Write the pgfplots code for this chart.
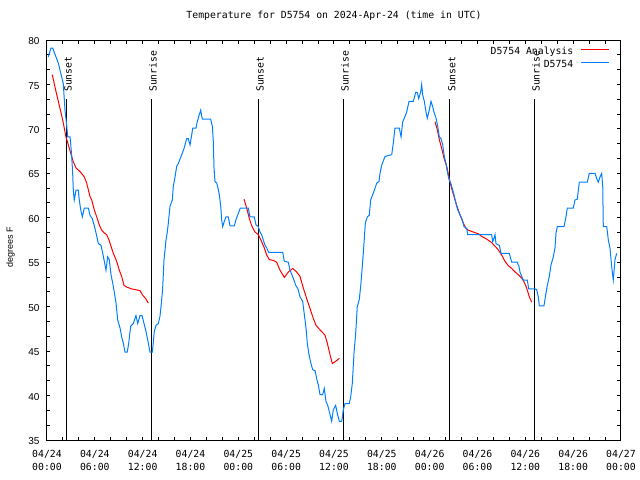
\documentclass[border=0pt]{standalone}
\usepackage{pgfplots}
\pgfplotsset{compat=1.18}
\usepackage{fontspec}
\setmainfont{Liberation Sans}
\newfontfamily\monofont{DejaVu Sans Mono}
\newcommand{\mono}{\fontsize{9.8bp}{13bp}\selectfont\monofont}

\definecolor{obsblue}{RGB}{0,128,255}

\begin{document}
\begin{tikzpicture}
\begin{axis}[
    scale only axis,
    width=574bp, height=400bp,
    xmin=0, xmax=72, ymin=35, ymax=80,
    xtick={0,6,...,72},
    minor tick num=2,
    xticklabels={04/24\\00:00,04/24\\06:00,04/24\\12:00,04/24\\18:00,
                 04/25\\00:00,04/25\\06:00,04/25\\12:00,04/25\\18:00,
                 04/26\\00:00,04/26\\06:00,04/26\\12:00,04/26\\18:00,
                 04/27\\00:00},
    ytick={35,40,...,80},
    tick align=inside,
    major tick length=3.5bp, minor tick length=3.5bp,
    tick style={black, line width=1bp},
    axis line style={line width=1bp},
    xticklabel style={font=\mono, align=center, inner sep=0pt, anchor=north, yshift=-10bp},
    yticklabel style={font=\fontsize{10bp}{12bp}\selectfont, inner sep=0pt, xshift=-7.4bp, yshift=-1.2bp},
    /pgf/number format/assume math mode=true,
    title={Temperature for D5754 on 2024-Apr-24 (time in UTC)},
    title style={font=\mono, at={(0.5,1)}, anchor=base, yshift=15.7bp, inner sep=0pt},
    ylabel={degrees F},
    ylabel style={font=\fontsize{9bp}{11bp}\selectfont, at={(axis description cs:-0.0636,0.4825)}, anchor=center},
    legend cell align=right,
    legend plot pos=right,
    legend style={draw=none, fill=none, at={(1,1)}, anchor=north east,
        xshift=-11bp, yshift=-6.5bp, inner sep=0pt, outer sep=0pt,
        row sep=3bp, column sep=0pt, font=\mono,
        nodes={inner sep=0pt, text height=7.5bp, text depth=2.5bp}},
    legend image code/.code={\path (0bp,0bp); \draw[#1] (7.4bp,2.5bp) -- (35.7bp,2.5bp);},
]

% sunset / sunrise markers
\addplot[black, line width=1bp, forget plot] coordinates {(2.42,35) (2.42,73.4)};
\addplot[black, line width=1bp, forget plot] coordinates {(13.08,35) (13.08,73.4)};
\addplot[black, line width=1bp, forget plot] coordinates {(26.5,35) (26.5,73.4)};
\addplot[black, line width=1bp, forget plot] coordinates {(37.17,35) (37.17,73.4)};
\addplot[black, line width=1bp, forget plot] coordinates {(50.55,35) (50.55,73.4)};
\addplot[black, line width=1bp, forget plot] coordinates {(61.13,35) (61.13,73.4)};

% analysis
\addplot[red, line width=1bp] coordinates {
(0.66,76.1) (1.13,74.2) (1.63,72.3) (1.97,71.0) (2.38,69.1) (2.67,68.2) (3.10,66.9)
(3.30,66.3) (3.64,65.6) (4.14,65.2) (4.68,64.6) (4.98,63.9) (5.39,62.4) (5.61,62.0)
(5.93,60.9) (6.23,60.1) (6.56,59.2) (6.86,58.6) (7.19,58.3) (7.49,58.1) (7.78,57.5)
(8.03,56.8) (8.32,56.0) (8.74,55.1) (9.07,54.1) (9.37,53.4) (9.66,52.4) (10.00,52.2)
(10.62,52.0) (11.16,51.9) (11.67,51.8) (12.00,51.3) (12.38,50.9) (12.71,50.4)
};
\addlegendentry{D5754 Analysis}
\addplot[red, line width=1bp, forget plot] coordinates {
(24.71,62.1) (25.05,61.1) (25.38,59.9) (25.68,59.1) (26.09,58.4) (26.51,58.1)
(26.93,57.3) (27.26,56.6) (27.56,55.8) (27.88,55.3) (28.39,55.2) (28.81,55.0)
(29.23,54.1) (29.77,53.3) (30.27,53.9) (30.82,54.3) (31.32,53.9) (31.74,53.4)
(32.15,52.1) (32.58,50.9) (32.99,49.8) (33.40,48.7) (33.74,47.9) (34.24,47.4)
(34.87,46.8) (35.16,45.9) (35.50,44.6) (35.79,43.6) (36.13,43.8) (36.42,44.0) (36.67,44.2)
};
\addplot[red, line width=1bp, forget plot] coordinates {
(48.67,70.8) (48.96,69.9) (49.21,68.8) (49.51,67.8) (49.80,66.7) (50.14,65.8)
(50.46,64.4) (50.76,63.3) (51.05,62.4) (51.39,61.4) (51.74,60.5) (52.22,59.4)
(52.56,58.8) (52.85,58.6) (53.47,58.4) (54.10,58.2) (54.53,57.9) (55.16,57.6)
(55.78,57.2) (56.20,56.8) (56.61,56.4) (57.04,55.8) (57.45,55.1) (57.87,54.6)
(58.29,54.3) (58.71,53.9) (59.12,53.6) (59.55,53.2) (59.83,52.8) (60.08,52.3)
(60.30,51.7) (60.50,51.1) (60.80,50.5)
};

% observations
\addplot[obsblue, line width=1bp] coordinates {
(0.16,78.1) (0.50,79.1) (0.71,79.1) (1.42,77.4) (2.04,75.1) (2.26,72.1) (2.47,70.4)
(2.60,69.1) (2.89,69.1) (2.97,68.4) (3.10,66.9) (3.22,65.0) (3.30,63.1) (3.42,62.0)
(3.64,63.1) (3.93,63.1) (4.05,62.0) (4.23,60.9) (4.43,60.1) (4.68,61.1) (5.18,61.1)
(5.39,60.3) (5.68,59.9) (5.90,59.2) (6.15,58.3) (6.44,57.1) (6.77,56.9) (6.99,56.0)
(7.19,55.1) (7.40,54.1) (7.61,55.6) (7.81,55.3) (8.03,53.6) (8.32,52.3) (8.66,50.4)
(8.87,48.5) (9.16,47.6) (9.37,46.6) (9.57,45.9) (9.78,44.9) (10.07,44.9) (10.25,45.9)
(10.50,47.8) (10.83,48.1) (11.16,49.0) (11.38,48.1) (11.67,49.0) (11.92,49.0)
(12.17,48.1) (12.42,47.2) (12.67,46.1) (12.92,44.9) (13.21,44.9) (13.33,45.9)
(13.46,47.2) (13.67,47.9) (13.96,48.1) (14.17,48.9) (14.39,50.8) (14.51,52.1)
(14.68,55.3) (14.93,57.5) (15.09,58.4) (15.22,59.4) (15.43,61.3) (15.72,62.0)
(15.84,63.5) (16.06,64.6) (16.27,65.8) (16.47,66.1) (16.90,67.1) (17.19,67.8)
(17.52,68.9) (17.72,68.9) (17.94,68.2) (18.15,69.3) (18.28,70.1) (18.69,70.1)
(18.85,70.8) (19.10,71.6) (19.28,72.1) (19.48,71.1) (20.53,71.1) (20.74,70.3)
(20.86,68.6) (20.95,65.6) (21.07,64.1) (21.29,63.9) (21.41,63.5) (21.61,62.6)
(21.79,61.3) (21.91,59.8) (22.04,59.0) (22.24,59.6) (22.45,60.1) (22.74,60.1)
(22.96,59.1) (23.50,59.1) (23.71,59.8) (24.00,60.5) (24.25,61.1) (25.25,61.1)
(25.46,60.1) (26.00,60.1) (26.22,59.2) (26.50,59.0) (26.72,58.4) (26.93,58.1)
(27.13,57.5) (27.35,56.9) (27.56,56.6) (27.81,56.1) (29.57,56.1) (29.77,55.1)
(30.27,55.0) (30.48,54.1) (30.90,53.2) (31.20,52.4) (31.48,52.0) (31.74,51.1)
(32.07,50.6) (32.24,49.4) (32.49,47.6) (32.65,45.9) (32.83,44.8) (33.08,43.7)
(33.33,42.9) (33.62,42.8) (33.83,41.9) (34.03,41.2) (34.25,40.1) (34.58,40.1)
(34.78,40.8) (35.00,39.3) (35.21,38.9) (35.41,38.2) (35.71,37.1) (35.91,38.4)
(36.21,38.9) (36.41,38.0) (36.67,37.1) (36.97,37.1) (37.17,38.4) (37.38,39.1)
(37.92,39.1) (38.10,39.9) (38.30,41.4) (38.51,44.8) (38.72,47.0) (38.92,50.0)
(39.17,50.8) (39.35,52.3) (39.55,54.5) (39.76,57.1) (39.93,59.4) (40.18,60.1)
(40.43,60.3) (40.60,62.0) (40.85,62.6) (41.14,63.3) (41.36,63.9) (41.65,64.1)
(41.77,65.0) (41.98,65.9) (42.40,66.9) (43.24,67.1) (43.44,68.4) (43.65,70.1)
(44.19,70.1) (44.41,69.1) (44.62,70.8) (44.91,71.4) (45.12,71.9) (45.41,73.1)
(45.95,73.1) (46.25,74.1) (46.45,74.1) (46.63,73.4) (46.88,74.2) (47.00,75.0)
(47.13,73.8) (47.33,73.1) (47.54,71.9) (47.70,71.2) (47.95,72.1) (48.17,73.1)
(48.38,72.5) (48.54,71.9) (48.80,71.2) (49.01,70.3) (49.21,69.1) (49.42,68.9)
(49.64,68.2) (49.80,67.1) (50.05,66.1) (50.21,65.2) (50.43,64.3) (50.64,63.9)
(50.84,63.3) (51.05,62.6) (51.30,61.6) (51.52,60.9) (51.81,60.3) (52.09,59.8)
(52.31,59.0) (52.65,58.8) (52.77,58.1) (55.78,58.1) (55.91,57.3) (56.07,57.7)
(56.20,58.1) (56.32,57.1) (56.49,57.0) (56.74,56.9) (56.95,56.0) (57.99,56.0)
(58.17,55.4) (58.29,55.0) (58.99,55.0) (59.21,54.5) (59.33,53.9) (59.55,53.4)
(59.75,53.0) (60.25,53.0) (60.42,52.0) (61.21,52.0) (61.43,51.9) (61.63,51.1)
(61.75,50.1) (62.34,50.1) (62.59,51.5) (62.76,52.4) (63.01,53.4) (63.22,54.7)
(63.51,55.6) (63.72,56.6) (63.85,58.3) (64.01,59.0) (64.85,59.0) (65.06,59.9)
(65.27,61.1) (66.02,61.1) (66.23,62.0) (66.52,62.1) (66.77,64.0) (67.78,64.0)
(68.02,65.0) (68.74,65.0) (68.95,64.4) (69.15,64.0) (69.37,64.6) (69.58,65.0)
(69.71,63.5) (69.78,59.0) (70.21,59.0) (70.41,57.5) (70.62,56.6) (70.83,54.5)
(71.03,53.0) (71.25,55.3) (71.46,56.0)
};
\addlegendentry{D5754}

\node[rotate=90, anchor=base west, inner sep=0pt, font=\mono] at ([xshift=5.4bp,yshift=6.6bp]axis cs:2.42,73.4) {Sunset};
\node[rotate=90, anchor=base west, inner sep=0pt, font=\mono] at ([xshift=5.4bp,yshift=6.6bp]axis cs:13.08,73.4) {Sunrise};
\node[rotate=90, anchor=base west, inner sep=0pt, font=\mono] at ([xshift=5.4bp,yshift=6.6bp]axis cs:26.5,73.4) {Sunset};
\node[rotate=90, anchor=base west, inner sep=0pt, font=\mono] at ([xshift=5.4bp,yshift=6.6bp]axis cs:37.17,73.4) {Sunrise};
\node[rotate=90, anchor=base west, inner sep=0pt, font=\mono] at ([xshift=5.4bp,yshift=6.6bp]axis cs:50.55,73.4) {Sunset};
\node[rotate=90, anchor=base west, inner sep=0pt, font=\mono] at ([xshift=5.4bp,yshift=6.6bp]axis cs:61.13,73.4) {Sunrise};
\end{axis}
\pgfresetboundingbox
\path[use as bounding box] (-47bp,-40bp) rectangle (593bp,440bp);
\end{tikzpicture}
\end{document}
